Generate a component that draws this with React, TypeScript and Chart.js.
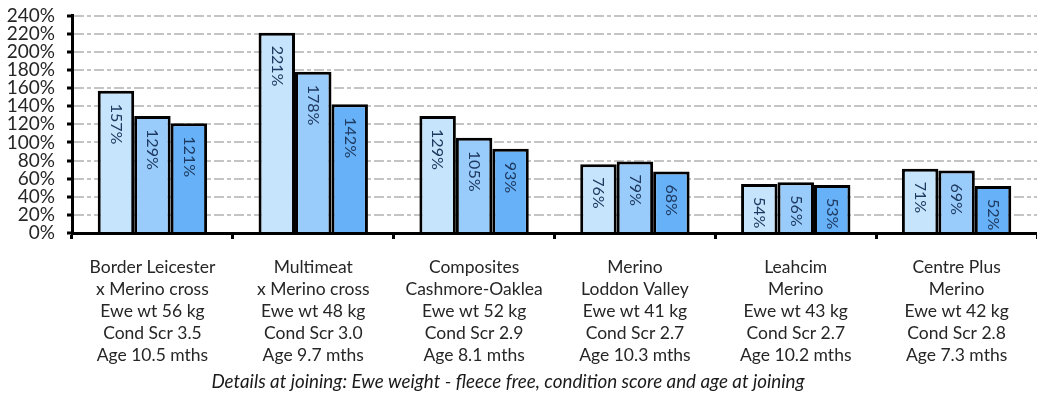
import React, { useEffect, useRef } from "react";
import { Chart, registerables } from "chart.js";

Chart.register(...registerables);

const categories: string[][] = [
  ["Border Leicester", "x Merino cross", "Ewe wt 56 kg", "Cond Scr 3.5", "Age 10.5 mths"],
  ["Multimeat", "x Merino cross", "Ewe wt 48 kg", "Cond Scr 3.0", "Age 9.7 mths"],
  ["Composites", "Cashmore-Oaklea", "Ewe wt 52 kg", "Cond Scr 2.9", "Age 8.1 mths"],
  ["Merino", "Loddon Valley", "Ewe wt 41 kg", "Cond Scr 2.7", "Age 10.3 mths"],
  ["Leahcim", "Merino", "Ewe wt 43 kg", "Cond Scr 2.7", "Age 10.2 mths"],
  ["Centre Plus", "Merino", "Ewe wt 42 kg", "Cond Scr 2.8", "Age 7.3 mths"],
];

const series1: number[] = [157, 221, 129, 76, 54, 71];
const series2: number[] = [129, 178, 105, 79, 56, 69];
const series3: number[] = [121, 142, 93, 68, 53, 52];

const footerText = "Details at joining: Ewe weight - fleece free, condition score and age at joining";

const FONT = "Lato, 'Open Sans', sans-serif";

const valueLabelPlugin = {
  id: "valueLabels",
  afterDatasetsDraw(chart: any) {
    const ctx = chart.ctx;
    ctx.save();
    ctx.font = `16px ${FONT}`;
    ctx.fillStyle = "#1f3a60";
    ctx.textAlign = "left";
    ctx.textBaseline = "middle";
    chart.data.datasets.forEach((ds: any, di: number) => {
      const meta = chart.getDatasetMeta(di);
      meta.data.forEach((el: any, i: number) => {
        ctx.save();
        ctx.translate(el.x, el.y + 13);
        ctx.rotate(Math.PI / 2);
        ctx.fillText(`${ds.data[i]}%`, 0, 0);
        ctx.restore();
      });
    });
    ctx.restore();
  },
};

const footerPlugin = {
  id: "footerText",
  afterDraw(chart: any) {
    const ctx = chart.ctx;
    ctx.save();
    ctx.font = `italic 18.8px ${FONT}`;
    ctx.fillStyle = "#1a1a1a";
    ctx.textAlign = "center";
    ctx.textBaseline = "middle";
    ctx.fillText(footerText, 508, 382);
    ctx.restore();
  },
};

export default function App() {
  const ref = useRef<HTMLCanvasElement | null>(null);
  useEffect(() => {
    document.body.style.margin = "0";
    const canvas = ref.current!;
    const chart = new Chart(canvas, {
      type: "bar",
      data: {
        labels: categories,
        datasets: [
          { data: series1, backgroundColor: "#c6e4fc", borderColor: "#000", borderWidth: 3 },
          { data: series2, backgroundColor: "#99cbfb", borderColor: "#000", borderWidth: 3 },
          { data: series3, backgroundColor: "#66b1f7", borderColor: "#000", borderWidth: 3 },
        ],
      },
      options: {
        animation: false,
        responsive: false,
        layout: { padding: { top: 15.5, right: 0, left: 0, bottom: 0 } },
        datasets: { bar: { categoryPercentage: 0.68, barPercentage: 1 } },
        plugins: { legend: { display: false }, tooltip: { enabled: false } },
        scales: {
          x: {
            afterFit: (s: any) => { s.height = 161; s.paddingLeft = 0; s.paddingRight = 0; },
            grid: {
              drawOnChartArea: false,
              drawTicks: true,
              tickLength: 6,
              tickColor: "#000",
              tickWidth: 3,
              offset: true,
            },
            border: { display: true, color: "#000", width: 3 },
            ticks: {
              color: "#262626",
              font: { family: FONT, size: 17.5, lineHeight: 22 / 17.5 },
              padding: 17,
              maxRotation: 0,
              autoSkip: false,
            },
          },
          y: {
            min: 0,
            max: 240,
            afterFit: (s: any) => { s.width = 72; s.paddingTop = 0; s.paddingBottom = 0; },
            grid: {
              color: "#c4c4c4",
              lineWidth: 2,
              drawTicks: true,
              tickLength: 5,
              tickColor: "#000",
              tickWidth: 3,
              tickBorderDash: [],
            },
            border: { display: true, color: "#000", width: 3, dash: [10, 3, 4, 3] },
            ticks: {
              stepSize: 20,
              autoSkip: false,
              color: "#262626",
              font: { family: FONT, size: 19, lineHeight: 1 },
              padding: 12,
              callback: (v: any) => `${v}%`,
            },
          },
        },
      },
      plugins: [valueLabelPlugin, footerPlugin],
    });
    return () => chart.destroy();
  }, []);
  return <canvas ref={ref} width={1037} height={394} style={{ display: "block" }} />;
}
